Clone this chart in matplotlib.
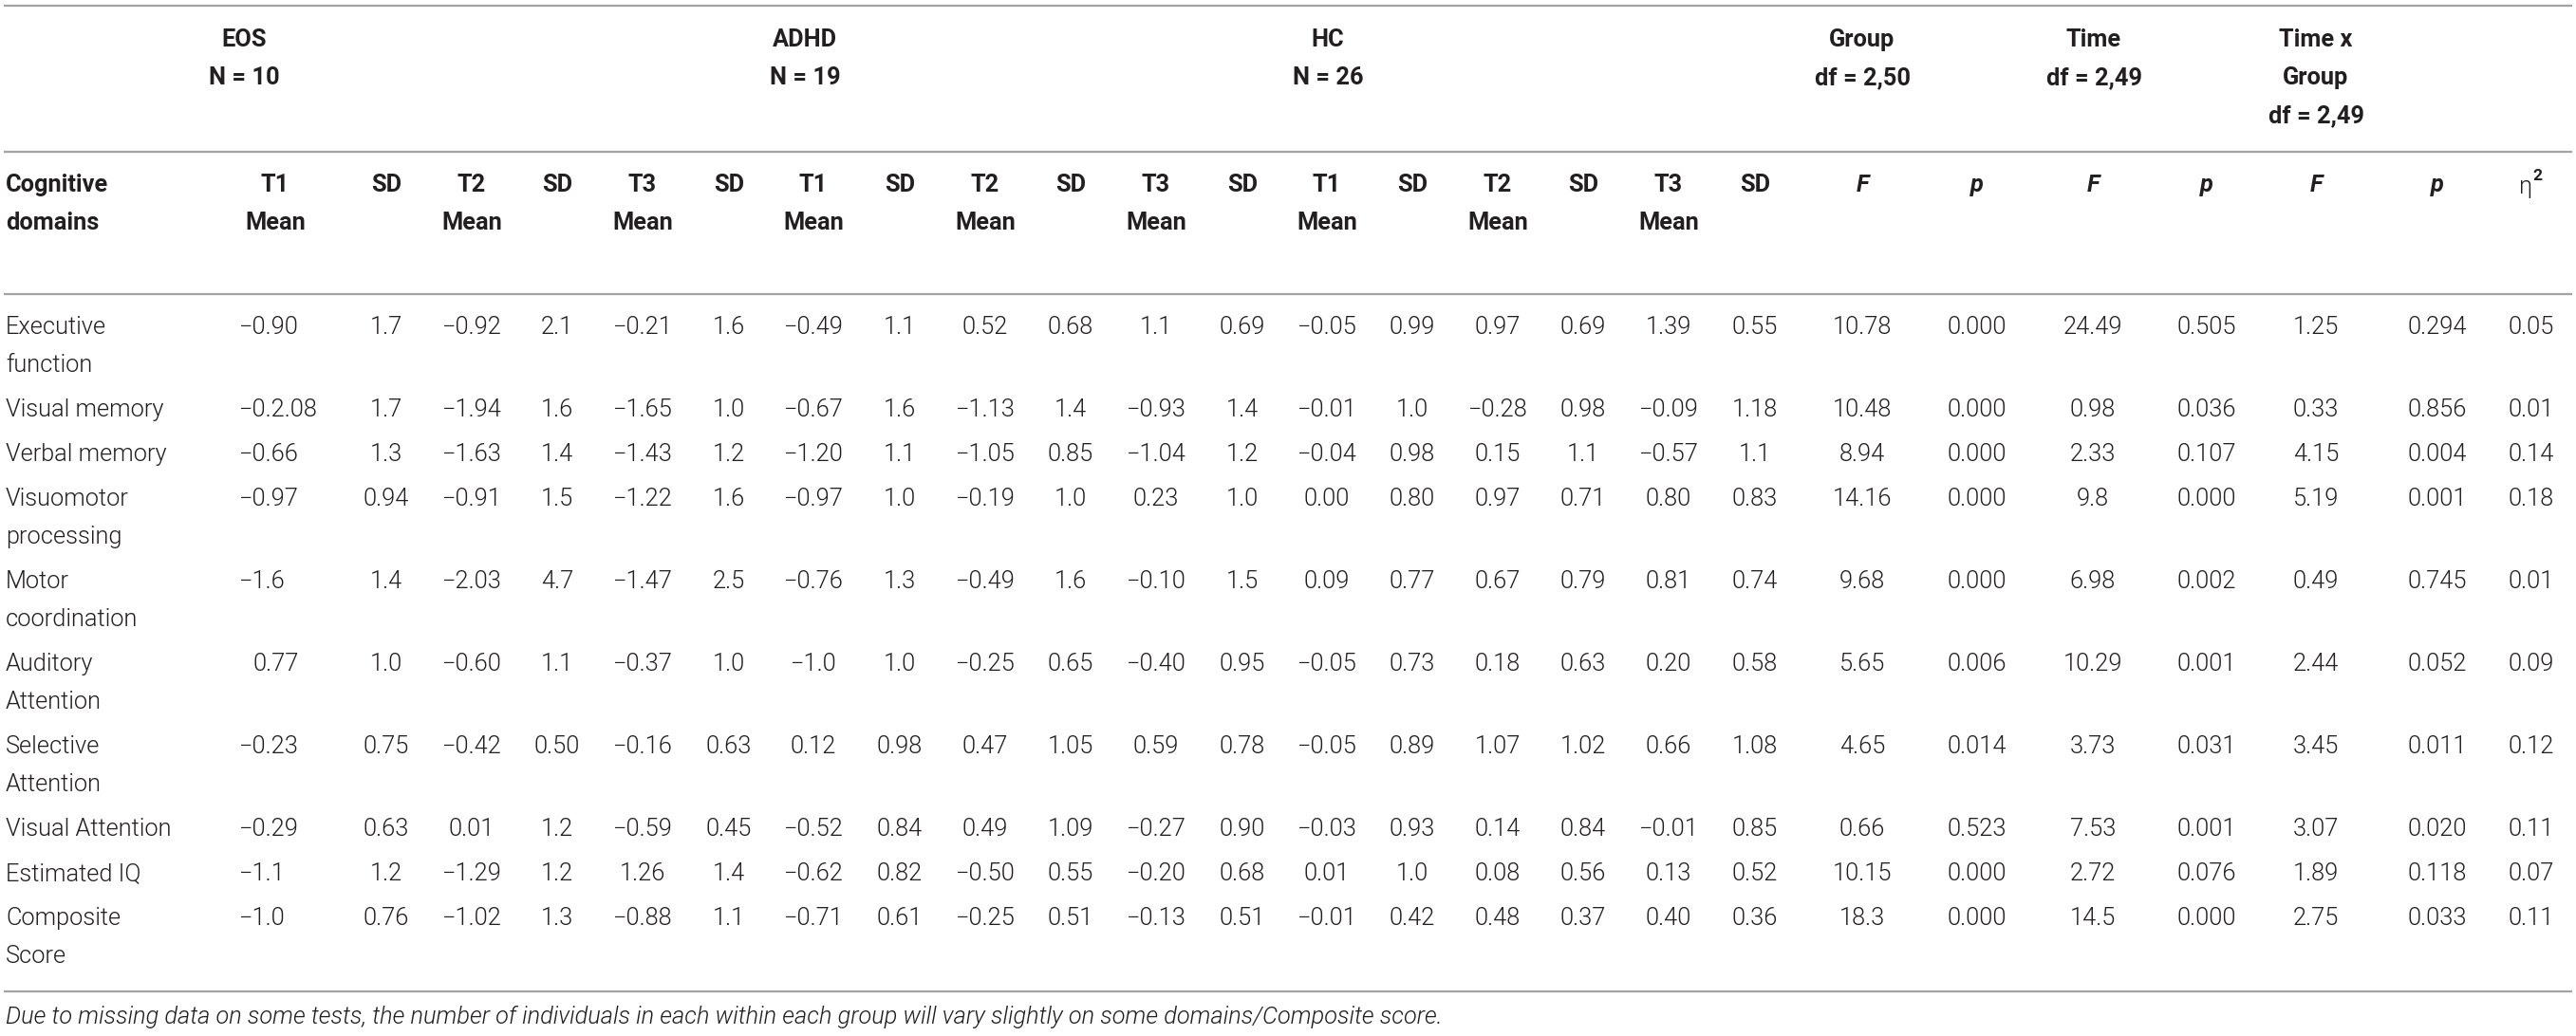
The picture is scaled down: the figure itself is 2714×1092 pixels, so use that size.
import matplotlib
matplotlib.use("Agg")
import matplotlib.pyplot as plt

# table content
domains = ["Executive\nfunction", "Visual memory", "Verbal memory", "Visuomotor\nprocessing",
           "Motor\ncoordination", "Auditory\nAttention", "Selective\nAttention", "Visual Attention",
           "Estimated IQ", "Composite\nScore"]

eos = [["−0.90", "1.7", "−0.92", "2.1", "−0.21", "1.6"],
       ["−0.2.08", "1.7", "−1.94", "1.6", "−1.65", "1.0"],
       ["−0.66", "1.3", "−1.63", "1.4", "−1.43", "1.2"],
       ["−0.97", "0.94", "−0.91", "1.5", "−1.22", "1.6"],
       ["−1.6", "1.4", "−2.03", "4.7", "−1.47", "2.5"],
       ["0.77", "1.0", "−0.60", "1.1", "−0.37", "1.0"],
       ["−0.23", "0.75", "−0.42", "0.50", "−0.16", "0.63"],
       ["−0.29", "0.63", "0.01", "1.2", "−0.59", "0.45"],
       ["−1.1", "1.2", "−1.29", "1.2", "1.26", "1.4"],
       ["−1.0", "0.76", "−1.02", "1.3", "−0.88", "1.1"]]

adhd = [["−0.49", "1.1", "0.52", "0.68", "1.1", "0.69"],
        ["−0.67", "1.6", "−1.13", "1.4", "−0.93", "1.4"],
        ["−1.20", "1.1", "−1.05", "0.85", "−1.04", "1.2"],
        ["−0.97", "1.0", "−0.19", "1.0", "0.23", "1.0"],
        ["−0.76", "1.3", "−0.49", "1.6", "−0.10", "1.5"],
        ["−1.0", "1.0", "−0.25", "0.65", "−0.40", "0.95"],
        ["0.12", "0.98", "0.47", "1.05", "0.59", "0.78"],
        ["−0.52", "0.84", "0.49", "1.09", "−0.27", "0.90"],
        ["−0.62", "0.82", "−0.50", "0.55", "−0.20", "0.68"],
        ["−0.71", "0.61", "−0.25", "0.51", "−0.13", "0.51"]]

hc = [["−0.05", "0.99", "0.97", "0.69", "1.39", "0.55"],
      ["−0.01", "1.0", "−0.28", "0.98", "−0.09", "1.18"],
      ["−0.04", "0.98", "0.15", "1.1", "−0.57", "1.1"],
      ["0.00", "0.80", "0.97", "0.71", "0.80", "0.83"],
      ["0.09", "0.77", "0.67", "0.79", "0.81", "0.74"],
      ["−0.05", "0.73", "0.18", "0.63", "0.20", "0.58"],
      ["−0.05", "0.89", "1.07", "1.02", "0.66", "1.08"],
      ["−0.03", "0.93", "0.14", "0.84", "−0.01", "0.85"],
      ["0.01", "1.0", "0.08", "0.56", "0.13", "0.52"],
      ["−0.01", "0.42", "0.48", "0.37", "0.40", "0.36"]]

stats = [["10.78", "0.000", "24.49", "0.505", "1.25", "0.294", "0.05"],
         ["10.48", "0.000", "0.98", "0.036", "0.33", "0.856", "0.01"],
         ["8.94", "0.000", "2.33", "0.107", "4.15", "0.004", "0.14"],
         ["14.16", "0.000", "9.8", "0.000", "5.19", "0.001", "0.18"],
         ["9.68", "0.000", "6.98", "0.002", "0.49", "0.745", "0.01"],
         ["5.65", "0.006", "10.29", "0.001", "2.44", "0.052", "0.09"],
         ["4.65", "0.014", "3.73", "0.031", "3.45", "0.011", "0.12"],
         ["0.66", "0.523", "7.53", "0.001", "3.07", "0.020", "0.11"],
         ["10.15", "0.000", "2.72", "0.076", "1.89", "0.118", "0.07"],
         ["18.3", "0.000", "14.5", "0.000", "2.75", "0.033", "0.11"]]

group_heads = ["EOS\nN = 10", "ADHD\nN = 19", "HC\nN = 26",
               "Group\ndf = 2,50", "Time\ndf = 2,49", "Time x\nGroup\ndf = 2,49"]
mean_heads = ["T1\nMean", "SD", "T2\nMean", "SD", "T3\nMean", "SD"]
stat_heads = ["F", "p", "F", "p", "F", "p"]
footnote = ("Due to missing data on some tests, the number of individuals in each within each group "
            "will vary slightly on some domains/Composite score.")

# layout (pixels)
W, H = 2714, 1092
FONT = "Roboto"
FS = 18.3
LINE = 40
INK = "#231f20"
RULE = "#a3a3a3"

col_x = [290, 407, 497, 587, 677, 768,
         857, 948, 1038, 1128, 1218, 1309,
         1398, 1488, 1578, 1668, 1758, 1849]
stat_x = [1962, 2083, 2205, 2325, 2440, 2568, 2667]
group_x = [257, 848, 1399, 1962, 2206, 2440]
first_left = 252

fig = plt.figure(figsize=(W / 100, H / 100), dpi=100)
ax = fig.add_axes([0, 0, 1, 1])
ax.set_xlim(0, W)
ax.set_ylim(H, 0)
ax.axis("off")


def cell(x, y, text, ha="center", weight=300, style="normal", size=FS):
    for i, line in enumerate(text.split("\n")):
        ax.text(x, y + i * LINE, line, ha=ha, va="center", fontsize=size, family=FONT,
                weight=weight, style=style, color=INK)


# rules
for y in [5.5, 160, 310, 1045]:
    ax.plot([4, 2710], [y, y], color=RULE, lw=1.6, solid_capstyle="butt")

# group headers
for x, t in zip(group_x, group_heads):
    cell(x, 42, t, weight="bold")

# column headers
cell(6, 195, "Cognitive\ndomains", ha="left", weight="bold")
for k, t in enumerate(mean_heads * 3):
    cell(col_x[k], 195, t, weight="bold")
for x, t in zip(stat_x[:6], stat_heads):
    cell(x, 195, t, weight="bold", style="italic")
ax.text(stat_x[6] - 6, 197, "η", ha="center", va="center", fontsize=FS, family=FONT,
        weight=300, color=INK)
ax.annotate("2", xy=(stat_x[6] + 1, 195), xytext=(0, 7), textcoords="offset points",
            ha="left", va="center", fontsize=12.5, family=FONT, weight="bold", color=INK)

# measure the minus sign so positive values in the first column line up with it
fig.canvas.draw()
renderer = fig.canvas.get_renderer()
probe = ax.text(0, 0, "−", fontsize=FS, family=FONT, weight=300)
minus_w = probe.get_window_extent(renderer).width
probe.remove()

# body
y = 345
for r, name in enumerate(domains):
    cell(6, y, name, ha="left")
    values = eos[r] + adhd[r] + hc[r]
    for k, v in enumerate(values):
        if k == 0:
            x0 = first_left if v.startswith("−") else first_left + minus_w
            cell(x0, y, v, ha="left")
        else:
            cell(col_x[k], y, v)
    for x, v in zip(stat_x, stats[r]):
        cell(x, y, v)
    y += LINE * name.count("\n") + 47

cell(6, 1072, footnote, ha="left", style="italic")

fig.savefig("out.png", dpi=100, facecolor="white")
